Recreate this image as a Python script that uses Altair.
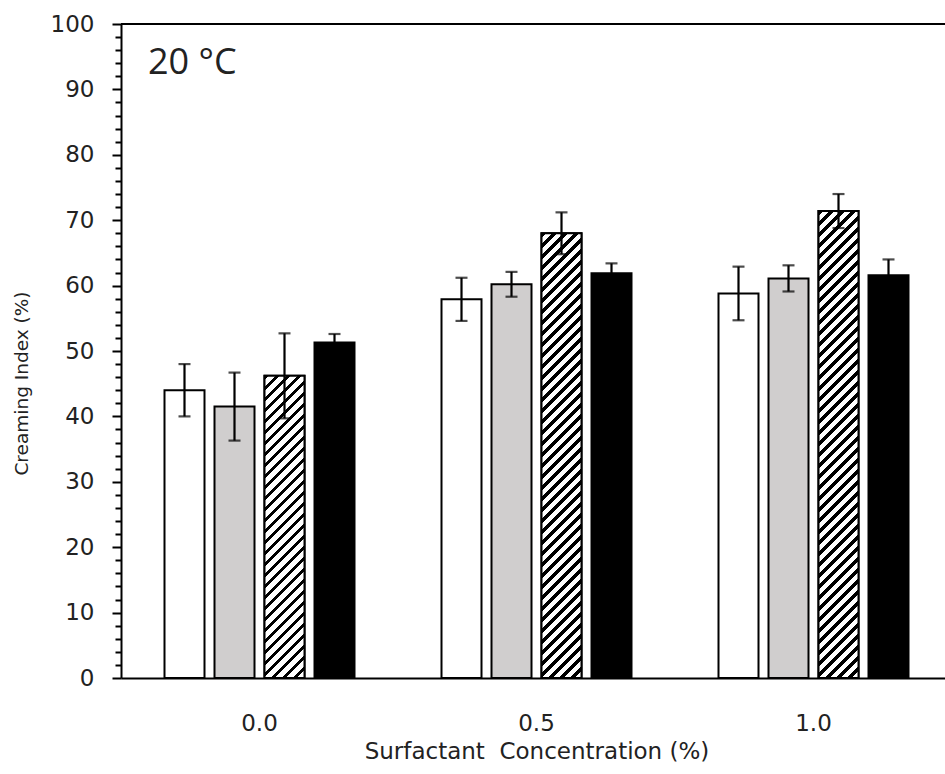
import altair as alt
import pandas as pd

# ---- data ----
groups = ["0.0", "0.5", "1.0"]
series = ["S1", "S2", "S3", "S4"]          # white, gray, hatched, black
s1_vals = [44.0, 57.9, 58.8]
s1_err = [4.0, 3.3, 4.1]
s2_vals = [41.5, 60.2, 61.1]
s2_err = [5.2, 1.9, 2.0]
s3_vals = [46.2, 68.0, 71.4]
s3_err = [6.5, 3.2, 2.6]
s4_vals = [51.3, 61.9, 61.6]
s4_err = [1.3, 1.5, 2.4]
y_ticks = list(range(0, 101, 2))
annotation = ["20 °C"]

# ---- layout / style ----
W, H = 824, 654
PAD = {"left": 121, "top": 24, "right": 0, "bottom": 96}
STEP = 277
FONT = "DejaVu Sans"
TXT = "#222222"
fills = ["white", "#d0cece", "white", "black"]

rows = []
for s, vals, errs in zip(series, [s1_vals, s2_vals, s3_vals, s4_vals],
                         [s1_err, s2_err, s3_err, s4_err]):
    for g, v, e in zip(groups, vals, errs):
        rows.append({"conc": g, "series": s, "value": v, "lo": v - e, "hi": v + e})
df = pd.DataFrame(rows)

x_enc = alt.X(
    "conc:N",
    scale=alt.Scale(domain=groups, range=[0, STEP * 3], paddingInner=0, paddingOuter=0),
    axis=alt.Axis(
        title="Surfactant\u00a0 Concentration (%)",
        ticks=False, labelPadding=34, labelAngle=0, titlePadding=5,
        labelFontSize=23, titleFontSize=23,
    ),
)
xo_enc = alt.XOffset(
    "series:N",
    scale=alt.Scale(domain=series, paddingInner=0.2, paddingOuter=0.87),
)
y_scale = alt.Scale(domain=[0, 100], nice=False, zero=True)
y_axis = alt.Axis(
    title="Creaming Index (%)",
    values=y_ticks,
    tickSize=alt.expr("datum.value % 10 === 0 ? 9 : 6"),
    labelExpr="datum.value % 10 === 0 ? datum.label : ''",
    labelOverlap=False, labelFlush=False,
    labelPadding=18, labelFontSize=23,
    titleFontSize=18.5, titleX=-100, titleY=359,
    titleAlign="center", titleBaseline="middle", titleAngle=270,
)


def yq(field):
    return alt.Y(field, scale=y_scale, axis=y_axis, title="Creaming Index (%)")


bars = alt.Chart(df).mark_bar(stroke="black", strokeWidth=2).encode(
    x=x_enc,
    xOffset=xo_enc,
    y=yq("value:Q"),
    fill=alt.Fill("series:N", scale=alt.Scale(domain=series, range=fills), legend=None),
)


# hatch (diagonal "/" stripes) built as a hard-stop linear gradient per bar
def hatch(value, w=40.0, period=11.0, black_frac=0.42):
    h = value / 100.0 * H
    L = w + h
    s = L / (h + w * w / h)
    stops = []
    k = 0
    while k * period < L:
        a = k * period / L
        b = min(1.0, (k * period + black_frac * period) / L)
        c = min(1.0, (k + 1) * period / L)
        stops += [
            {"offset": a, "color": "black"},
            {"offset": b, "color": "black"},
            {"offset": b, "color": "white"},
            {"offset": c, "color": "white"},
        ]
        k += 1
    return {"gradient": "linear", "x1": 0, "y1": 0, "x2": s * w / h, "y2": s,
            "stops": stops}


hatched = []
for g, v in zip(groups, s3_vals):
    hatched.append(
        alt.Chart(df)
        .transform_filter((alt.datum.conc == g) & (alt.datum.series == "S3"))
        .mark_bar(fill=hatch(v), stroke="black", strokeWidth=2)
        .encode(x=x_enc, xOffset=xo_enc, y=yq("value:Q"))
    )

err_rule = alt.Chart(df).mark_rule(color="black", strokeWidth=2.2).encode(
    x=x_enc, xOffset=xo_enc, y=yq("lo:Q"), y2="hi:Q"
)
cap_hi = alt.Chart(df).mark_tick(color="black", size=12, thickness=2.2).encode(
    x=x_enc, xOffset=xo_enc, y=yq("hi:Q")
)
cap_lo = alt.Chart(df).mark_tick(color="black", size=12, thickness=2.2).encode(
    x=x_enc, xOffset=xo_enc, y=yq("lo:Q")
)

top_line = alt.Chart(pd.DataFrame({"v": [100]})).mark_rule(color="black", strokeWidth=2).encode(
    y=yq("v:Q"), x=alt.value(0), x2=alt.value(W)
)

label = alt.Chart(pd.DataFrame({"t": annotation})).mark_text(
    font="Open Sans", fontSize=36, align="left", baseline="middle", color=TXT
).encode(x=alt.value(27), y=alt.value(39), text="t:N")

chart = (
    alt.layer(bars, *hatched, err_rule, cap_hi, cap_lo, top_line, label)
    .properties(width=W, height=H, padding=PAD, autosize=alt.AutoSizeParams(type="none"))
    .configure_view(stroke=None)
    .configure_axis(
        labelFont=FONT, titleFont=FONT, labelColor=TXT, titleColor=TXT,
        titleFontWeight="normal", domainColor="black", domainWidth=2,
        tickColor="black", tickWidth=2, grid=False,
    )
)

chart.save("out.html", embed_options={"renderer": "svg", "actions": False})
